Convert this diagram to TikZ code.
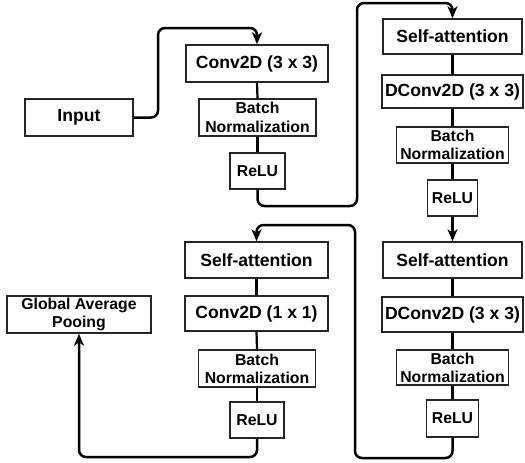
\documentclass[tikz,border=0pt]{standalone}
\usepackage{fontspec}
\setmainfont{Liberation Sans}
\usetikzlibrary{arrows.meta}

\begin{document}
\begin{tikzpicture}[x=1pt,y=-1pt,
  blk/.style={draw=black!85, line width=1.5pt, rectangle, inner sep=0pt, align=center,
              font=\fontsize{17.6}{20}\selectfont\bfseries},
  sml/.style={blk, font=\fontsize{15.8}{18.3}\selectfont\bfseries},
  link/.style={draw=black, line width=2.2pt},
  flow/.style={draw=black, line width=2.5pt, rounded corners=7pt,
               -{Stealth[length=12pt,width=10pt,inset=3.5pt]}}
]
\useasboundingbox (0,0) rectangle (525,463);

% first block: Conv2D, BN, ReLU
\node[blk, minimum width=142, minimum height=37] (conva) at (257,63.5) {Conv2D (3 x 3)};
\node[sml, minimum width=117, minimum height=37] (bna) at (257.5,117.5) {Batch\\Normalization};
\node[sml, minimum width=55, minimum height=36] (relua) at (257.5,171) {ReLU};

% input and output
\node[blk, minimum width=108, minimum height=37] (input) at (79,117.5) {Input};
\node[sml, minimum width=144, minimum height=37] (gap) at (79,314.5) {Global Average\\Pooing};

% second block
\node[blk, minimum width=139, minimum height=35] (sab) at (452.5,36.5) {Self-attention};
\node[blk, minimum width=141, minimum height=33] (dconvb) at (452.5,91.5) {DConv2D (3 x 3)};
\node[sml, minimum width=112, minimum height=36] (bnb) at (452.5,145) {Batch\\Normalization};
\node[sml, minimum width=50, minimum height=36] (relub) at (452.5,198) {ReLU};

% third block
\node[blk, minimum width=139, minimum height=36] (sac) at (452.5,260) {Self-attention};
\node[blk, minimum width=141, minimum height=35] (dconvc) at (452.5,314.5) {DConv2D (3 x 3)};
\node[sml, minimum width=112, minimum height=35] (bnc) at (452.5,367.5) {Batch\\Normalization};
\node[sml, minimum width=52, minimum height=37] (reluc) at (452.5,418.5) {ReLU};

% fourth block
\node[blk, minimum width=143, minimum height=36] (sad) at (256.5,260) {Self-attention};
\node[blk, minimum width=143, minimum height=35] (convd) at (256.5,313.5) {Conv2D (1 x 1)};
\node[sml, minimum width=117, minimum height=37] (bnd) at (257,368.5) {Batch\\Normalization};
\node[sml, minimum width=54, minimum height=36] (relud) at (257,420) {ReLU};

% links inside each block
\draw[link] (conva.south) -- (bna.north);
\draw[link] (bna.south) -- (relua.north);
\draw[link] (sab.south) -- (dconvb.north);
\draw[link] (dconvb.south) -- (bnb.north);
\draw[link] (bnb.south) -- (relub.north);
\draw[link] (sac.south) -- (dconvc.north);
\draw[link] (dconvc.south) -- (bnc.north);
\draw[link] (bnc.south) -- (reluc.north);
\draw[link] (sad.south) -- (convd.north);
\draw[link] (convd.south) -- (bnd.north);
\draw[link] (bnd.south) -- (relud.north);

% bend points of the flow arrows
\coordinate (k1) at (158,28);
\coordinate (k2) at (357,206);
\coordinate (k3) at (357,3);
\coordinate (k4) at (355,458);
\coordinate (k5) at (355,225);
\coordinate (k6) at (79,457);

% flow between blocks
\draw[flow] (input.east) -| (k1) -| (conva.north);
\draw[flow] (relua.south) |- (k2) -- (k3) -| (sab.north);
\draw[flow] (relub.south) -- (sac.north);
\draw[flow] (reluc.south) |- (k4) -- (k5) -| (sad.north);
\draw[flow] (relud.south) |- (k6) -- (gap.south);
\end{tikzpicture}
\end{document}
